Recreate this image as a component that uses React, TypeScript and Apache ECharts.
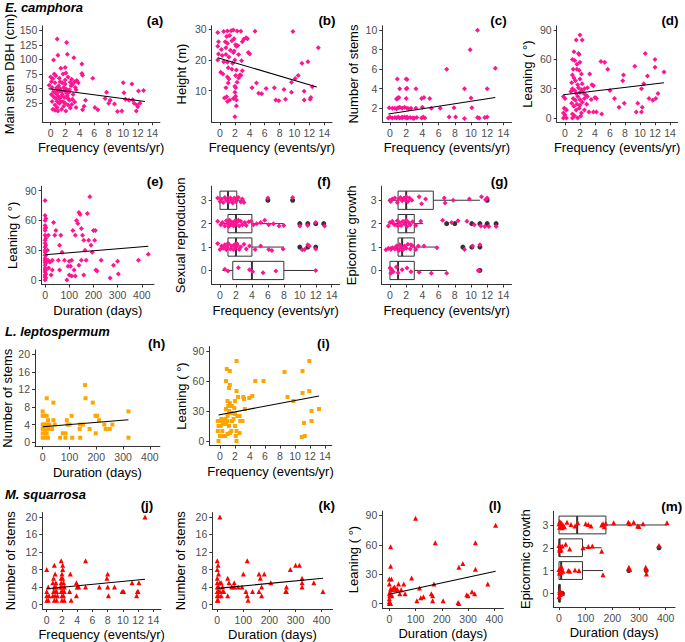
import React, { useEffect, useRef } from "react";
import * as echarts from "echarts";

const FONT = "Liberation Sans, Arial, sans-serif";
const PINK = "#FF1493";
const ORANGE = "#FFA500";
const RED = "#FF0000";

// ---------- tick labels ----------
const freqTicks = [0, 2, 4, 6, 8, 10, 12, 14];
const durTicks = [0, 100, 200, 300, 400];
const dbhTicks = [25, 50, 75, 100, 125, 150];
const heightTicks = [10, 20, 30];
const stemsTicks10 = [2, 4, 6, 8, 10];
const leanTicks = [0, 30, 60, 90];
const stemsTicks20 = [0, 4, 8, 12, 16, 20];
const catTicks = [0, 1, 2, 3];

// ---------- E. camphora ----------
const aPoints = [
  [0.9, 135], [2.2, 129], [2.3, 109], [1.0, 107], [0.4, 99], [3.2, 103], [4.3, 92], [1.4, 85], [2.0, 86],
  [0.0, 70], [0.3, 67], [0.7, 72], [1.2, 68], [1.7, 75], [2.1, 77], [2.4, 70], [2.9, 66], [3.3, 62], [3.6, 64], [4.3, 76], [4.4, 73],
  [-0.2, 56], [0.2, 52], [0.6, 60], [0.9, 48], [1.1, 55], [1.5, 45], [1.8, 52], [2.0, 58], [2.2, 49], [2.5, 44], [2.8, 55], [3.0, 57], [3.4, 52], [3.5, 48],
  [0.1, 40], [0.4, 36], [0.7, 42], [1.0, 38], [1.2, 33], [1.6, 40], [1.9, 35], [2.3, 38], [2.6, 30], [3.0, 32], [3.3, 27],
  [0.2, 28], [0.6, 22], [0.9, 18], [1.2, 25], [1.5, 15], [1.8, 20], [2.1, 12], [2.4, 22], [2.7, 17], [3.5, 18], [0.3, 15], [1.0, 12], [1.4, 28], [2.0, 25],
  [4.6, 20], [4.8, 30], [4.4, 14], [5.8, 68], [6.1, 18], [6.5, 14], [7.5, 33], [7.7, 44], [8.0, 25], [8.2, 30], [8.8, 24], [9.2, 11], [9.8, 12],
  [10.0, 60], [10.1, 43], [10.3, 32], [10.8, 30], [11.2, 58], [11.3, 31], [11.5, 25], [11.8, 12], [12.0, 19], [12.1, 46], [12.3, 25], [12.8, 47], [11.9, 22],
  [1.3, 50], [1.6, 60], [0.7, 33], [2.6, 48], [0.1, 62], [1.1, 45], [1.9, 47], [2.2, 42], [0.8, 51], [0.4, 45], [3.1, 40], [1.7, 28], [2.9, 23],
  [0.6, 13], [1.3, 62], [0.5, 75], [2.0, 65], [1.5, 36], [2.4, 33], [0.9, 28], [3.8, 60], [2.7, 61],
];
const aLine = [[-0.3, 50], [13, 28]];

const bPoints = [
  [-0.3, 29], [0.5, 29.3], [1.0, 29.5], [1.5, 29.6], [1.8, 29.8], [2.3, 29.5], [2.8, 29.4], [4.7, 29.4], [9.8, 29.3],
  [0.9, 27.7], [1.3, 28], [1.9, 27], [3.5, 27.3], [3.7, 27],
  [-0.2, 26], [0.7, 26], [1.0, 25.5], [1.6, 26.3], [2.1, 25], [2.4, 24.8], [3.0, 26], [3.2, 26.8],
  [-0.3, 24.5], [0.2, 23.5], [0.8, 24], [1.4, 23.2], [1.9, 23], [2.2, 24.5], [13.2, 24],
  [-0.2, 22], [0.3, 21.5], [0.8, 21.8], [1.2, 21], [1.8, 22.5], [2.5, 21.8], [3.8, 22.5], [4.0, 22],
  [-0.3, 20], [0.5, 19.5], [1.0, 19.3], [1.7, 19], [2.0, 20], [2.9, 19.8], [11.0, 19], [11.8, 19.5],
  [0.1, 16], [0.4, 15.5], [1.1, 17.5], [1.6, 17], [2.2, 16.8], [3.0, 16.5], [2.7, 15.2],
  [1.0, 14.5], [1.2, 13.8], [2.1, 15], [2.5, 14.2], [2.8, 15], [10.1, 14], [10.5, 15],
  [0.8, 11], [1.1, 12.5], [2.0, 11.5], [2.3, 12.8], [2.1, 11], [4.3, 11], [4.9, 12.5], [6.2, 10.7], [7.3, 11], [8.6, 10.4], [9.6, 12.8], [11.3, 9.8], [12.4, 11.3],
  [0.6, 7.6], [0.9, 8], [1.3, 7], [1.8, 7.5], [2.0, 9.5], [2.1, 8.2], [2.2, 7], [5.2, 9.2], [5.6, 9], [7.5, 7], [7.9, 6.7], [8.8, 7.2], [9.6, 9.5],
  [11.3, 7], [12.1, 7.2], [12.2, 7.8], [2.0, 1.5], [2.2, 5], [1.0, 6.5],
];
const bLine = [[-0.3, 20.8], [13, 11.2]];

const cPoints = [
  [-0.2, 1], [0.0, 1.1], [0.3, 1], [0.8, 1], [1.0, 1.1], [1.2, 1], [1.5, 1], [1.8, 1.1], [2.0, 1], [2.2, 1], [2.5, 1.05], [2.8, 1], [3.0, 1],
  [3.3, 1.05], [3.9, 1], [4.1, 1.1], [4.3, 1], [7.3, 1.1], [8.1, 1.1], [9.2, 0.95], [10.8, 1.05], [11.0, 1], [11.7, 1.05], [12.0, 1.1],
  [0.6, 1.05], [1.5, 1.1], [2.1, 1.1], [2.9, 0.95],
  [-0.1, 2.05], [0.3, 2], [0.8, 1.95], [1.0, 2.05], [1.5, 2], [1.8, 2.1], [2.1, 2], [2.6, 2], [4.0, 2.1], [5.1, 2], [6.2, 2], [7.9, 2.05],
  [10.1, 2.05], [1.2, 2.1], [0.6, 2.0], [2.3, 1.95], [3.2, 2.0],
  [0.9, 3], [1.0, 3.05], [2.0, 3], [3.9, 3], [4.2, 3.1], [4.9, 3], [10.0, 3.05], [0.8, 2.95], [1.1, 3.1],
  [1.2, 4], [2.0, 4], [2.1, 4.05], [3.2, 4], [9.2, 4], [12.0, 4],
  [0.9, 5], [2.0, 5], [2.1, 4.95],
  [7.0, 6], [13.0, 6.1], [9.9, 8], [10.8, 10],
];
const cLine = [[-0.2, 1.4], [13, 3.1]];

const dPoints = [
  [2.0, 85], [1.5, 80], [2.3, 80], [1.2, 68], [1.8, 66], [1.9, 65], [1.0, 60], [1.3, 59], [2.0, 57], [1.6, 55], [4.8, 58], [5.3, 57], [5.7, 50],
  [10.7, 66], [12.0, 60], [12.0, 52], [9.3, 53], [11.0, 43], [7.8, 44], [7.7, 38], [1.1, 50], [1.6, 50], [1.9, 49], [2.2, 45], [3.3, 45],
  [1.0, 44], [1.2, 41], [0.9, 36], [1.4, 38], [1.7, 34], [2.0, 40], [2.3, 35], [2.6, 30], [3.0, 31], [3.8, 33], [3.6, 34], [1.0, 30], [1.3, 28],
  [1.5, 25], [2.0, 26], [2.4, 26], [1.1, 20], [1.7, 22], [2.0, 19], [2.6, 20], [3.0, 22], [3.5, 19], [4.0, 21], [4.2, 20], [0.9, 15], [1.2, 12],
  [1.6, 14], [2.0, 13], [2.3, 16], [2.9, 14], [1.5, 8], [1.9, 10], [2.2, 5], [2.6, 8], [3.2, 6], [3.8, 6], [4.2, 6], [4.9, 4], [1.0, 4], [1.3, 2],
  [1.7, 0], [2.1, 2], [1.0, 0], [-0.2, 22], [0.0, 20], [-0.1, 10], [0.1, 9], [-0.2, 5], [0.0, 3], [0.2, 0], [-0.2, 0], [0.2, 8], [6.0, 28],
  [6.6, 20], [7.2, 11], [7.9, 15], [9.5, 6], [9.7, 15], [10.3, 11], [10.2, 6], [10.2, 30], [10.5, 35], [11.2, 20], [11.7, 18], [12.1, 20],
  [12.4, 25], [13.2, 47], [0.8, 27], [1.4, 18], [2.7, 24], [1.8, 31], [2.2, 29],
];
const dLine = [[-0.2, 23.8], [13.2, 36]];

const ePoints = [
  [0, 80], [0, 65], [0, 60], [0, 55], [0, 52], [0, 50], [0, 45], [0, 40], [0, 37], [0, 33], [0, 30], [0, 28], [0, 25], [0, 22], [0, 20], [0, 18],
  [0, 15], [0, 12], [0, 10], [0, 8], [0, 5], [0, 3], [0, 0], [3, 62], [3, 53], [3, 42], [3, 35], [3, 25], [3, 17], [3, 10], [3, 6], [3, 2],
  [13, 45], [10, 30], [12, 20], [15, 12], [20, 18], [25, 5], [30, 10], [30, 20], [35, 58], [40, 45], [45, 50], [55, 20], [60, 10], [60, 35],
  [65, 45], [70, 28], [80, 20], [90, 0], [95, 14], [100, 5], [105, 14], [110, 20], [115, 50], [120, 10], [125, 45], [130, 60], [135, 57],
  [140, 68], [145, 66], [150, 52], [155, 45], [160, 40], [165, 30], [170, 20], [175, 67], [180, 40], [185, 84], [190, 35], [195, 28],
  [200, 50], [205, 40], [210, 10], [215, 9], [232, 20], [125, 4], [140, 15], [150, 20], [100, 19], [110, 4], [160, 5], [300, 19], [283, 15],
  [269, 2], [303, 6], [386, 20], [427, 26], [208, 50],
];
const eLine = [[0, 25.5], [427, 34]];

// boxplot rows: [category, q1, median, q3, whiskerLow, whiskerHigh]
const fBoxes = [
  [3, 0.0, 1.0, 2.1, 0.0, 3.1],
  [2, 1.0, 2.0, 4.0, 0.0, 8.0],
  [1, 1.0, 2.0, 4.0, 0.0, 8.0],
  [0, 1.6, 4.0, 8.0, 0.3, 12.0],
];
const fOutliers = [[6.0, 3], [9.1, 3], [10.0, 2], [11.0, 2], [12.0, 2], [13.0, 2], [10.0, 1], [11.0, 1], [12.0, 1]];
const fPoints = [
  [-0.3, 3.1], [0.0, 2.95], [0.2, 3.05], [0.4, 2.9], [0.6, 3.12], [0.8, 3.0], [1.0, 3.08], [1.1, 2.92], [1.3, 3.1], [1.5, 3.0], [1.6, 2.88],
  [1.8, 3.1], [2.0, 2.95], [2.1, 3.05], [2.3, 3.12], [2.6, 2.92], [3.0, 2.9], [2.8, 3.05], [6.0, 3.1], [9.1, 3.12],
  [-0.3, 2.1], [0.1, 1.95], [0.3, 2.05], [0.6, 1.9], [0.8, 2.12], [1.0, 2.0], [1.1, 1.88], [1.3, 2.1], [1.4, 1.95], [1.6, 2.05], [1.7, 1.9],
  [1.9, 2.12], [2.0, 1.98], [2.2, 2.08], [2.4, 1.9], [2.6, 2.1], [2.8, 1.95], [3.1, 2.05], [3.3, 1.92], [3.6, 2.08], [3.9, 2.1], [4.2, 1.95],
  [4.6, 2.0], [5.1, 2.05], [5.6, 2.15], [6.1, 1.95], [6.7, 2.0], [7.4, 1.9], [8.0, 1.92], [10.0, 1.9], [11.0, 1.92], [12.0, 2.05], [13.1, 1.9],
  [2.3, 2.15], [1.2, 2.15],
  [-0.3, 1.15], [0.0, 0.9], [0.2, 1.05], [0.4, 0.95], [0.6, 1.1], [0.8, 0.88], [0.9, 1.0], [1.1, 1.12], [1.3, 0.92], [1.5, 1.05], [1.7, 0.9],
  [1.8, 1.1], [2.0, 0.98], [2.2, 1.08], [2.4, 0.9], [2.6, 1.0], [3.0, 1.12], [3.3, 0.92], [3.7, 1.05], [4.4, 0.9], [5.1, 1.05], [6.1, 0.9],
  [6.5, 0.85], [7.9, 0.92], [10.3, 0.88], [10.6, 0.9], [11.0, 1.1], [11.2, 1.05], [12.0, 0.92], [1.0, 1.15], [2.1, 1.15],
  [0.6, 0.05], [1.0, -0.02], [2.3, 0.12], [3.7, 0.03], [4.1, -0.05], [5.4, -0.1], [7.0, -0.02], [12.0, 0.0],
];

const gBoxes = [
  [3, 1.0, 2.0, 5.35, 0.0, 11.1],
  [2, 1.0, 2.0, 3.0, 0.0, 4.1],
  [1, 1.0, 1.5, 3.0, 0.0, 5.8],
  [0, 0.0, 1.0, 3.0, 0.0, 7.0],
];
const gOutliers = [[12.0, 3], [7.0, 2], [8.0, 2], [10.1, 2], [11.1, 2], [12.0, 2], [13.1, 2], [9.0, 1], [10.1, 1], [11.1, 1], [11.1, 0]];
const gPoints = [
  [0.1, 2.95], [0.3, 3.05], [0.6, 3.1], [0.9, 2.9], [1.1, 3.05], [1.3, 3.12], [1.5, 2.98], [1.7, 3.08], [1.9, 3.0], [2.0, 3.15], [2.2, 2.95],
  [2.4, 3.1], [2.7, 3.0], [3.6, 3.15], [3.9, 2.85], [4.4, 3.05], [6.7, 3.1], [6.8, 2.88], [7.8, 3.0], [9.8, 3.05], [11.3, 3.15], [12.0, 3.1],
  [11.8, 3.02], [0.0, 3.0],
  [-0.2, 1.9], [0.0, 2.05], [0.3, 2.1], [0.6, 1.95], [0.9, 2.12], [1.0, 1.9], [1.2, 2.05], [1.4, 1.92], [1.6, 2.1], [1.8, 2.0], [2.0, 2.15],
  [2.1, 1.88], [2.3, 2.05], [2.5, 1.95], [2.8, 2.08], [3.2, 1.92], [3.8, 2.1], [6.5, 2.15], [7.6, 2.05], [9.5, 2.1], [10.4, 1.95], [11.2, 1.9],
  [11.7, 1.88], [12.2, 1.88], [13.1, 1.88], [8.4, 2.12], [0.5, 1.97],
  [-0.5, 0.88], [-0.2, 0.95], [0.1, 0.9], [0.3, 0.97], [0.6, 0.92], [0.8, 1.05], [1.0, 0.92], [1.2, 1.1], [1.4, 0.97], [1.6, 0.88], [1.8, 1.05],
  [2.0, 0.95], [2.2, 1.12], [2.5, 0.92], [2.8, 1.05], [3.2, 0.9], [3.5, 1.05], [4.2, 1.05], [5.8, 0.97], [9.2, 0.9], [10.2, 1.05], [11.1, 1.1],
  [1.1, 0.85], [2.6, 1.1],
  [0.0, 0.1], [0.2, 0.05], [0.4, -0.05], [0.8, 0.15], [1.0, -0.1], [1.5, 0.03], [2.1, 0.1], [2.6, -0.05], [3.6, -0.08], [5.1, -0.12],
  [7.0, -0.12], [10.9, 0.0], [11.0, -0.02], [0.1, -0.12],
];

// ---------- L. leptospermum ----------
const hPoints = [
  [158, 13], [15, 10], [160, 10], [40, 9], [187, 9], [0, 7], [320, 7], [0, 6], [5, 6], [15, 6], [108, 6], [197, 6], [203, 6],
  [20, 5], [40, 5], [90, 5], [210, 5], [0, 4], [5, 4], [10, 4], [18, 4], [25, 4], [45, 4], [93, 4], [100, 4], [140, 4], [150, 4], [230, 4], [260, 4],
  [0, 3], [10, 3], [20, 3], [35, 3], [138, 3], [175, 3], [235, 3], [250, 3], [0, 2], [8, 2], [15, 2], [75, 2], [85, 2], [198, 2],
  [0, 1], [10, 1], [20, 1], [65, 1], [85, 1], [110, 1], [140, 1], [320, 1],
];
const hLine = [[0, 3.5], [320, 5.1]];

const iPoints = [
  [2.2, 80], [11.9, 80], [11.0, 70], [8.6, 69], [0.9, 72], [1.3, 70], [0.8, 60], [4.7, 60], [5.8, 60], [1.3, 56], [1.2, 53], [2.2, 50],
  [11.9, 50], [11.0, 48], [9.8, 40], [9.0, 44], [2.4, 44], [3.1, 44], [3.2, 42], [4.3, 45], [3.9, 43], [3.3, 32], [13.2, 32], [12.2, 30],
  [11.2, 18], [12.2, 20], [11.3, 5], [10.9, 4], [1.0, 40], [1.3, 38], [1.6, 35], [1.9, 33], [0.8, 32], [1.2, 30], [1.5, 28], [2.0, 27],
  [2.3, 25], [2.6, 25], [2.7, 20], [3.0, 20], [1.0, 25], [0.7, 22], [0.5, 20], [0.3, 20], [0.0, 20], [-0.3, 20], [-0.2, 15], [0.1, 15],
  [0.3, 10], [0.5, 5], [0.7, 5], [0.0, 5], [-0.2, 0], [0.2, 22], [1.0, 20], [1.2, 15], [1.5, 10], [1.3, 8], [1.0, 7], [2.0, 15], [2.2, 10],
  [2.1, 5], [2.2, 0], [2.6, 8], [1.8, 22], [0.8, 17], [0.4, 17], [-0.3, 10], [1.6, 20], [2.0, 40], [1.1, 35],
];
const iLine = [[-0.2, 26], [13.2, 45]];

// ---------- M. squarrosa ----------
const jPoints = [
  [12.9, 20], [5.1, 10], [1.9, 10], [1.0, 9], [2.1, 9], [0.0, 8], [2.1, 8], [8.0, 7], [3.1, 7], [1.1, 7], [2.0, 7], [7.9, 6], [1.9, 6], [2.1, 6],
  [0.9, 6], [1.2, 5], [0.8, 5], [1.9, 5], [2.2, 5], [3.9, 5], [11.2, 5], [12.1, 5], [0.2, 4], [1.0, 4], [1.2, 4], [1.8, 4], [2.0, 4], [2.3, 4],
  [4.0, 4], [4.2, 4], [5.1, 4], [6.9, 4], [8.0, 4], [8.9, 4], [0.0, 3], [0.9, 3], [1.1, 3], [1.3, 3], [1.9, 3], [2.1, 3], [2.3, 3], [3.0, 3],
  [9.9, 3], [10.1, 3], [11.9, 3], [12.0, 3], [0.0, 2], [0.3, 2], [0.8, 2], [1.1, 2], [1.4, 2], [2.0, 2], [2.2, 2], [3.9, 2], [8.1, 2], [11.8, 2],
  [0.0, 1], [0.2, 1], [1.0, 1], [1.3, 1], [2.0, 1], [2.3, 1], [3.2, 1],
];
const jLine = [[0, 3.6], [12.9, 5.8]];

const kPoints = [
  [10, 20], [0, 10], [3, 9], [115, 10], [0, 8], [5, 7], [100, 7], [160, 7], [180, 7], [280, 8], [300, 9], [315, 9], [0, 6], [10, 5], [40, 6],
  [65, 5], [165, 6], [325, 6], [0, 5], [15, 5], [45, 5], [370, 5], [205, 5], [0, 4], [5, 4], [20, 4], [55, 4], [65, 4], [80, 4], [95, 4],
  [170, 4], [265, 4], [325, 5], [0, 3], [5, 3], [10, 3], [20, 3], [25, 3], [110, 3], [135, 3], [160, 3], [262, 3], [265, 3], [405, 3],
  [0, 2], [5, 2], [15, 2], [40, 2], [115, 2], [170, 2], [0, 1], [3, 1], [118, 1], [325, 4],
];
const kLine = [[0, 3.7], [405, 6.0]];

const lPoints = [
  [100, 87], [405, 80], [175, 62], [328, 62], [5, 58], [5, 38], [280, 41], [265, 37], [328, 35], [375, 20], [85, 26], [0, 25], [8, 25],
  [0, 20], [15, 16], [20, 17], [30, 15], [35, 20], [40, 10], [55, 20], [60, 10], [5, 15], [0, 10], [2, 8], [0, 5], [0, 2], [5, 0], [3, 12],
  [10, 14], [115, 16], [120, 6], [105, 3], [130, 7], [160, 10], [165, 3], [170, 20], [165, 8], [205, 3], [262, 1], [265, 0], [295, 9],
  [300, 8], [315, 12], [325, 10], [0, 0], [10, 8], [25, 14], [45, 14],
];
const lLine = [[0, 9.5], [405, 33]];

const mBoxes = [
  [3, 0, 68, 176, 0, 405],
  [2, 0, 2, 88, 0, 160],
  [1, 0, 8, 88, 0, 165],
  [0, 0, 0, 5, 0, 8],
];
const mOutliers = [[375, 2], [262, 1], [327, 1], [13, 0]];
const mPoints = [
  [0, 3.05], [2, 2.9], [5, 3.1], [8, 2.95], [10, 3.08], [15, 3.0], [20, 2.92], [30, 3.12], [45, 3.02], [60, 2.95], [70, 3.1], [100, 3.05],
  [110, 3.02], [120, 2.95], [160, 3.0], [165, 3.05], [175, 3.08], [205, 3.1], [260, 3.12], [265, 3.05], [280, 3.12], [295, 2.95], [300, 2.93],
  [315, 3.05], [405, 3.1], [3, 3.15], [12, 2.88], [170, 2.92],
  [0, 2.1], [2, 1.95], [5, 2.05], [8, 1.9], [12, 2.08], [25, 2.15], [40, 1.95], [90, 2.0], [110, 2.05], [125, 2.08], [160, 1.85], [375, 2.1], [3, 1.88],
  [0, 1.05], [3, 0.95], [5, 1.1], [8, 0.92], [10, 1.15], [15, 0.97], [35, 1.0], [40, 0.97], [60, 1.02], [75, 1.0], [165, 0.82], [262, 1.15],
  [265, 1.05], [325, 1.15], [327, 1.05], [328, 0.85], [2, 0.88],
  [0, -0.15], [2, 0.05], [5, -0.05], [10, 0.02], [13, 0.0], [3, 0.12],
];

const FREQ = "Frequency (events/yr)";
const DUR = "Duration (days)";
const LEAN = "Leaning ( °)";

// layout: grid [left, top, width, height]
const panels: any[] = [
  { tag: "(a)", tagXY: [155, 20], g: [42.3, 25.8, 117.6, 96.5], x: [-1.15, 15.05], y: [-7.5, 157.5], xt: freqTicks, yt: dbhTicks, xn: FREQ, yn: "Main stem DBH (cm)", gap: 26, pts: aPoints, line: aLine, color: PINK, sym: "diamond" },
  { tag: "(b)", tagXY: [327, 20], g: [211.7, 25.8, 120.3, 96.5], x: [-1.11, 15.04], y: [-0.3, 31.2], xt: freqTicks, yt: heightTicks, xn: FREQ, yn: "Height (m)", gap: 24, pts: bPoints, line: bLine, color: PINK, sym: "diamond" },
  { tag: "(c)", tagXY: [498.5, 20], g: [382.3, 25.8, 129.2, 96.5], x: [-0.95, 15], y: [0.55, 10.45], xt: freqTicks, yt: stemsTicks10, xn: FREQ, yn: "Number of stems", gap: 22.5, pts: cPoints, line: cLine, color: PINK, sym: "diamond" },
  { tag: "(d)", tagXY: [670, 20], g: [556.7, 25.8, 120.8, 96.5], x: [-1.1, 15], y: [-4.5, 94.5], xt: freqTicks, yt: leanTicks, xn: FREQ, yn: LEAN, gap: 23, pts: dPoints, line: dLine, color: PINK, sym: "diamond" },
  { tag: "(e)", tagXY: [155, 181.7], g: [41.7, 186.2, 112.2, 98.3], x: [-14, 450], y: [-4.5, 94.5], xt: durTicks, yt: leanTicks, xn: DUR, yn: LEAN, gap: 23, pts: ePoints, line: eLine, color: PINK, sym: "diamond" },
  { tag: "(f)", tagXY: [324, 181.7], g: [211.7, 186.2, 128, 98.3], x: [-1.04, 15], y: [-0.6, 3.6], xt: freqTicks, yt: catTicks, xn: FREQ, yn: "Sexual reproduction", gap: 25, pts: fPoints, boxes: fBoxes, outliers: fOutliers, color: PINK, sym: "diamond" },
  { tag: "(g)", tagXY: [499.3, 181.7], g: [381.7, 186.2, 129.8, 98.3], x: [-1.02, 15], y: [-0.6, 3.6], xt: freqTicks, yt: catTicks, xn: FREQ, yn: "Epicormic growth", gap: 23.5, pts: gPoints, boxes: gBoxes, outliers: gOutliers, color: PINK, sym: "diamond" },
  { tag: "(h)", tagXY: [156.7, 343.3], g: [35, 350, 124.8, 96.5], x: [-28.7, 437], y: [-1, 21], xt: durTicks, yt: stemsTicks20, xn: DUR, yn: "Number of stems", gap: 18.5, pts: hPoints, line: hLine, color: ORANGE, sym: "rect" },
  { tag: "(i)", tagXY: [323.3, 343.3], g: [209.3, 346.5, 122.5, 99], x: [-1.43, 14.9], y: [-4.5, 94.5], xt: freqTicks, yt: leanTicks, xn: FREQ, yn: LEAN, gap: 21.5, pts: iPoints, line: iLine, color: ORANGE, sym: "rect" },
  { tag: "(j)", tagXY: [147, 505], g: [42.3, 512.5, 118.7, 96.5], x: [-0.58, 15], y: [-1, 21], xt: freqTicks, yt: stemsTicks20, xn: FREQ, yn: "Number of stems", gap: 25.8, pts: jPoints, line: jLine, color: RED, sym: "triangle" },
  { tag: "(k)", tagXY: [326.7, 505], g: [212.3, 512.5, 120.3, 96.5], x: [-19, 442], y: [-1, 21], xt: durTicks, yt: stemsTicks20, xn: DUR, yn: "Number of stems", gap: 25.8, pts: kPoints, line: kLine, color: RED, sym: "triangle" },
  { tag: "(l)", tagXY: [495, 505], g: [382.3, 511, 121.2, 97], x: [-26.7, 435], y: [-4.5, 94.5], xt: durTicks, yt: leanTicks, xn: DUR, yn: LEAN, gap: 22.8, pts: lPoints, line: lLine, color: RED, sym: "triangle" },
  { tag: "(m)", tagXY: [671.7, 506], g: [553.3, 511.3, 121.7, 95.7], x: [-21.4, 435], y: [-0.6, 3.6], xt: durTicks, yt: catTicks, xn: DUR, yn: "Epicormic growth", gap: 21.8, pts: mPoints, boxes: mBoxes, outliers: mOutliers, color: RED, sym: "triangle" },
];

const species = [
  { text: "E. camphora", y: 7.5 },
  { text: "L. leptospermum", y: 331.7 },
  { text: "M. squarrosa", y: 494 },
];

const AX = "#333";
const LBL = "#4D4D4D";

function renderBox(_params: any, api: any) {
  const c = api.value(0), q1 = api.value(1), med = api.value(2), q3 = api.value(3), lo = api.value(4), hi = api.value(5);
  const h = 0.39;
  const tl = api.coord([q1, c + h]);
  const br = api.coord([q3, c - h]);
  const m1 = api.coord([med, c + h]);
  const m2 = api.coord([med, c - h]);
  const wl = api.coord([lo, c]);
  const wq1 = api.coord([q1, c]);
  const wq3 = api.coord([q3, c]);
  const wh = api.coord([hi, c]);
  return {
    type: "group",
    children: [
      { type: "line", shape: { x1: wl[0], y1: wl[1], x2: wq1[0], y2: wq1[1] }, style: { stroke: AX, lineWidth: 1 } },
      { type: "line", shape: { x1: wq3[0], y1: wq3[1], x2: wh[0], y2: wh[1] }, style: { stroke: AX, lineWidth: 1 } },
      { type: "rect", shape: { x: tl[0], y: tl[1], width: Math.max(br[0] - tl[0], 0.5), height: br[1] - tl[1] }, style: { fill: "#fff", stroke: AX, lineWidth: 1 } },
      { type: "line", shape: { x1: m1[0], y1: m1[1], x2: m2[0], y2: m2[1] }, style: { stroke: AX, lineWidth: 2 } },
    ],
  };
}

function buildOption() {
  const grid = panels.map((p) => ({ left: p.g[0], top: p.g[1], width: p.g[2], height: p.g[3], containLabel: false, outerBoundsMode: "none" }));
  const xAxis = panels.map((p, i) => ({
    type: "value", gridIndex: i, min: p.x[0], max: p.x[1],
    axisLine: { show: true, onZero: false, lineStyle: { color: AX, width: 1 } },
    axisTick: { show: true, length: 3, customValues: p.xt, lineStyle: { color: AX, width: 1 } },
    axisLabel: { show: true, customValues: p.xt, margin: 5, fontSize: 10.5, color: LBL, fontFamily: FONT },
    splitLine: { show: false },
    name: p.xn, nameLocation: "middle", nameGap: 19,
    nameTextStyle: { fontSize: 13, color: "#000", fontFamily: FONT },
  }));
  const yAxis = panels.map((p, i) => ({
    type: "value", gridIndex: i, min: p.y[0], max: p.y[1],
    axisLine: { show: true, onZero: false, lineStyle: { color: AX, width: 1 } },
    axisTick: { show: true, length: 3, customValues: p.yt, lineStyle: { color: AX, width: 1 } },
    axisLabel: { show: true, customValues: p.yt, margin: 5, fontSize: 10.5, color: LBL, fontFamily: FONT },
    splitLine: { show: false },
    name: p.yn, nameLocation: "middle", nameGap: p.gap,
    nameTextStyle: { fontSize: 13, color: "#000", fontFamily: FONT },
  }));
  const series: any[] = [];
  panels.forEach((p, i) => {
    if (p.boxes) {
      series.push({
        type: "custom", xAxisIndex: i, yAxisIndex: i, renderItem: renderBox, data: p.boxes,
        encode: { x: [1, 2, 3, 4, 5], y: 0 }, z: 1, silent: true,
      });
      series.push({
        type: "scatter", xAxisIndex: i, yAxisIndex: i, data: p.outliers.map((d: number[]) => [d[0], d[1]]),
        symbol: "circle", symbolSize: 5, itemStyle: { color: "#333", opacity: 1 }, z: 2, silent: true,
      });
    }
    series.push({
      type: "scatter", xAxisIndex: i, yAxisIndex: i, data: p.pts,
      symbol: p.sym, symbolSize: p.sym === "rect" ? 4 : p.sym === "triangle" ? 5 : 5,
      itemStyle: { color: p.color, opacity: 1 }, z: 3, silent: true,
    });
    if (p.line) {
      series.push({
        type: "line", xAxisIndex: i, yAxisIndex: i, data: p.line, showSymbol: false, symbol: "none",
        lineStyle: { color: "#000", width: 1.1 }, z: 4, silent: true,
      });
    }
  });
  const graphic: any[] = [];
  panels.forEach((p) => {
    graphic.push({
      type: "text", x: p.tagXY[0], y: p.tagXY[1],
      style: { text: p.tag, fill: "#000", fontSize: 13.5, fontWeight: "bold", fontFamily: FONT, align: "center", verticalAlign: "middle" },
    });
  });
  species.forEach((s) => {
    graphic.push({
      type: "text", x: 5, y: s.y,
      style: { text: s.text, fill: "#000", fontSize: 13, fontWeight: "bold", fontStyle: "italic", fontFamily: FONT, align: "left", verticalAlign: "middle" },
    });
  });
  return { animation: false, backgroundColor: "#fff", grid, xAxis, yAxis, series, graphic };
}

export default function App() {
  const ref = useRef<HTMLDivElement>(null);
  useEffect(() => {
    if (!ref.current) return;
    const chart = echarts.init(ref.current, null, { renderer: "svg", width: 685, height: 642 });
    chart.setOption(buildOption() as any);
    return () => chart.dispose();
  }, []);
  return <div ref={ref} style={{ position: "absolute", left: 0, top: 0, width: 685, height: 642, background: "#fff" }} />;
}
